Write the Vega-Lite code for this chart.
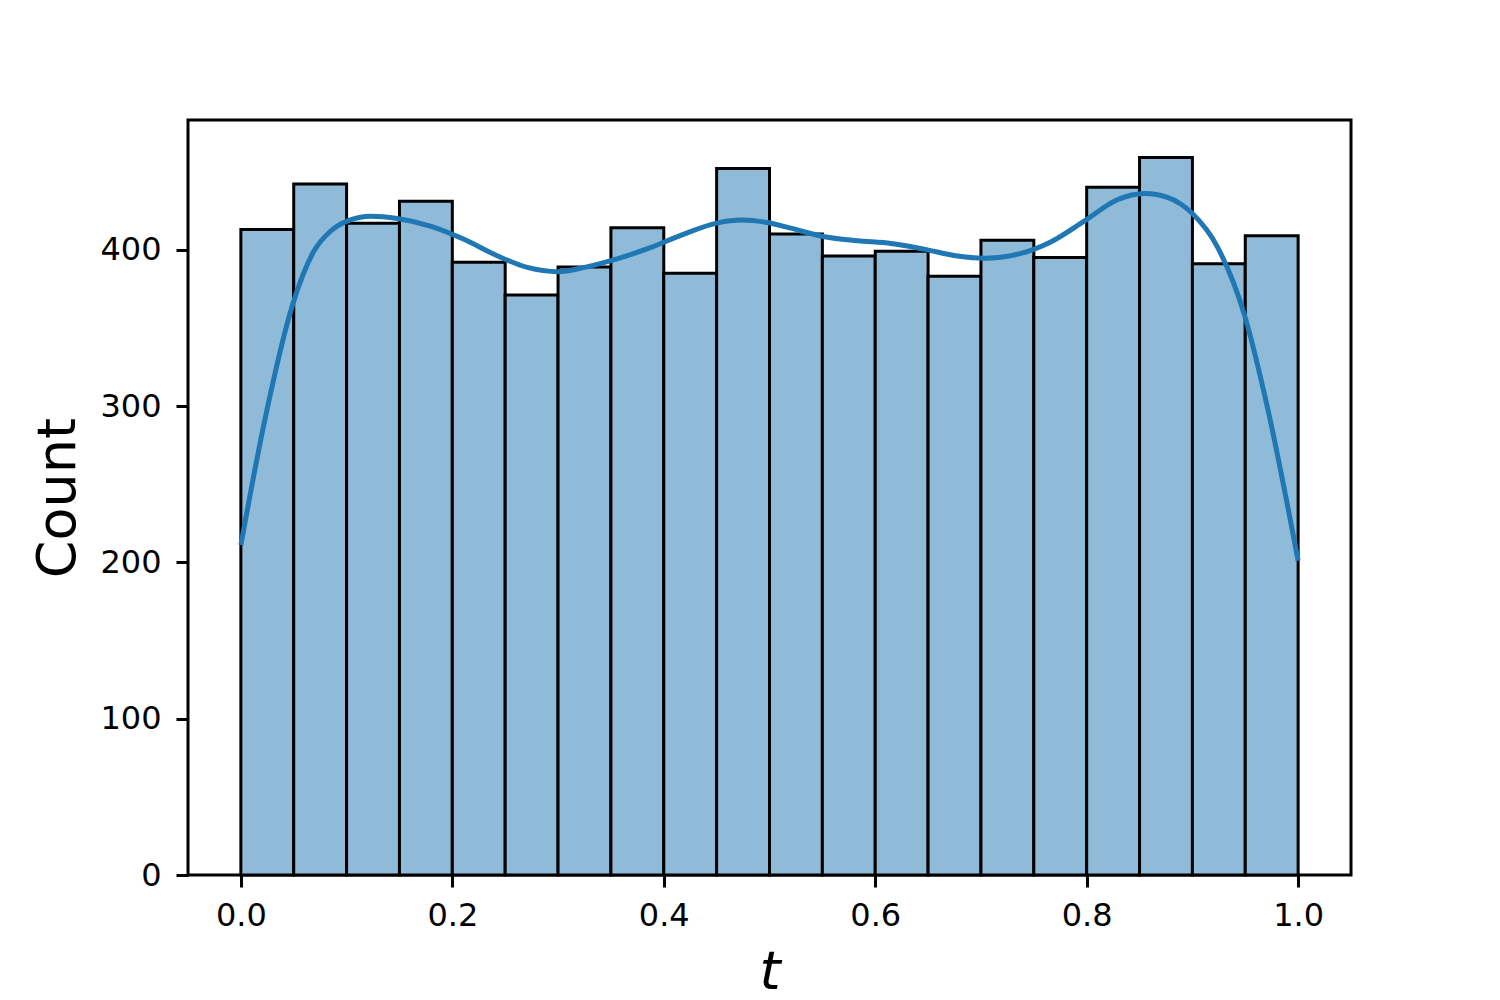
{
  "$schema": "https://vega.github.io/schema/vega-lite/v6.json",
  "autosize": {"type": "none"},
  "width": 1163,
  "height": 755,
  "padding": {"left": 188, "top": 120, "right": 149, "bottom": 125},
  "background": "white",
  "config": {
    "view": {"stroke": "black", "strokeWidth": 3},
    "font": "DejaVu Sans",
    "axis": {
      "grid": false,
      "domain": false,
      "tickColor": "black",
      "tickWidth": 3,
      "tickSize": 12,
      "labelColor": "black",
      "labelFont": "DejaVu Sans",
      "labelFontSize": 32,
      "titleFont": "DejaVu Sans",
      "titleFontSize": 54,
      "titleFontWeight": "normal",
      "titleColor": "black"
    }
  },
  "datasets": {
    "bins": [
      {"start": 0.00, "end": 0.05, "count": 413},
      {"start": 0.05, "end": 0.10, "count": 442},
      {"start": 0.10, "end": 0.15, "count": 417},
      {"start": 0.15, "end": 0.20, "count": 431},
      {"start": 0.20, "end": 0.25, "count": 392},
      {"start": 0.25, "end": 0.30, "count": 371},
      {"start": 0.30, "end": 0.35, "count": 389},
      {"start": 0.35, "end": 0.40, "count": 414},
      {"start": 0.40, "end": 0.45, "count": 385},
      {"start": 0.45, "end": 0.50, "count": 452},
      {"start": 0.50, "end": 0.55, "count": 410},
      {"start": 0.55, "end": 0.60, "count": 396},
      {"start": 0.60, "end": 0.65, "count": 399},
      {"start": 0.65, "end": 0.70, "count": 383},
      {"start": 0.70, "end": 0.75, "count": 406},
      {"start": 0.75, "end": 0.80, "count": 395},
      {"start": 0.80, "end": 0.85, "count": 440},
      {"start": 0.85, "end": 0.90, "count": 459},
      {"start": 0.90, "end": 0.95, "count": 391},
      {"start": 0.95, "end": 1.00, "count": 409}
    ],
    "kde": [
      {"t": 0.0, "v": 211},
      {"t": 0.022, "v": 289},
      {"t": 0.049, "v": 365},
      {"t": 0.069, "v": 399},
      {"t": 0.085, "v": 412},
      {"t": 0.101, "v": 418.5},
      {"t": 0.123, "v": 421.5},
      {"t": 0.148, "v": 420},
      {"t": 0.18, "v": 415},
      {"t": 0.211, "v": 406.7},
      {"t": 0.243, "v": 396},
      {"t": 0.271, "v": 388.7},
      {"t": 0.30, "v": 386},
      {"t": 0.325, "v": 388.7},
      {"t": 0.35, "v": 393},
      {"t": 0.388, "v": 401.5},
      {"t": 0.419, "v": 410},
      {"t": 0.451, "v": 417.2},
      {"t": 0.474, "v": 419},
      {"t": 0.498, "v": 417.4},
      {"t": 0.52, "v": 413.8},
      {"t": 0.552, "v": 408.3},
      {"t": 0.583, "v": 405.8},
      {"t": 0.615, "v": 404},
      {"t": 0.646, "v": 400.4},
      {"t": 0.678, "v": 396},
      {"t": 0.703, "v": 394.6},
      {"t": 0.735, "v": 397.2},
      {"t": 0.766, "v": 405},
      {"t": 0.798, "v": 418.5},
      {"t": 0.829, "v": 432},
      {"t": 0.855, "v": 436},
      {"t": 0.877, "v": 433.4},
      {"t": 0.899, "v": 423.8},
      {"t": 0.924, "v": 401.4},
      {"t": 0.949, "v": 358.8},
      {"t": 0.971, "v": 299},
      {"t": 1.0, "v": 201}
    ]
  },
  "layer": [
    {
      "data": {"name": "bins"},
      "mark": {"type": "rect", "fill": "#8fbbd9", "stroke": "black", "strokeWidth": 3},
      "encoding": {
        "x": {
          "field": "start", "type": "quantitative",
          "scale": {"domain": [-0.05, 1.05], "nice": false, "zero": false},
          "axis": {"values": [0, 0.2, 0.4, 0.6, 0.8, 1.0], "format": ".1f", "labelPadding": 13,
                   "title": "t", "titleFontStyle": "italic", "titleY": 113, "titleBaseline": "alphabetic"}
        },
        "x2": {"field": "end"},
        "y": {
          "field": "count", "type": "quantitative",
          "scale": {"domain": [0, 483], "nice": false},
          "axis": {"values": [0, 100, 200, 300, 400], "format": "d", "labelPadding": 15,
                   "title": "Count", "titleX": -114, "titleBaseline": "alphabetic"}
        },
        "y2": {"datum": 0}
      }
    },
    {
      "data": {"name": "kde"},
      "mark": {"type": "line", "color": "#1f77b4", "strokeWidth": 5, "interpolate": "monotone"},
      "encoding": {
        "x": {"field": "t", "type": "quantitative"},
        "y": {"field": "v", "type": "quantitative"}
      }
    }
  ]
}
